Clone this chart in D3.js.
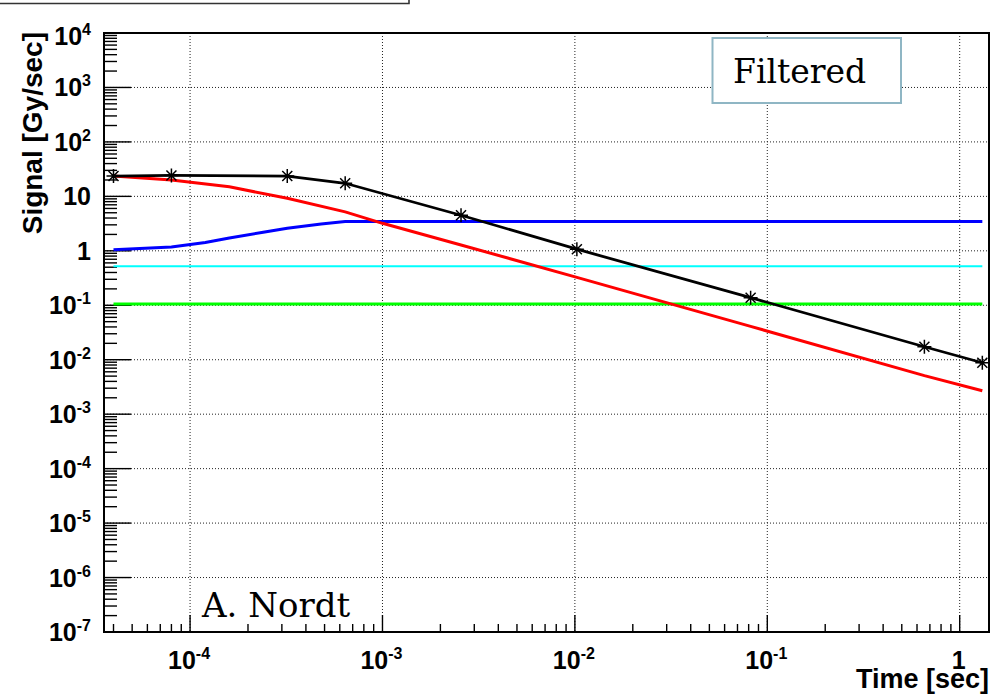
<!DOCTYPE html>
<html>
<head>
<meta charset="utf-8">
<script src="https://cdn.jsdelivr.net/npm/d3@7"></script>
<style>
body { margin: 0; background: #fff; }
</style>
</head>
<body>
<div id="chart"></div>
<script>
var width = 998;
var height = 694;

// star points of the total signal (black)
var starTimes = [4e-5, 8e-5, 3.2e-4, 6.4e-4, 2.56e-3, 1.024e-2, 8.192e-2, 0.6554, 1.311];
var totalValues = [23.6, 24.2, 23.6, 17.4, 4.5, 1.07, 0.138, 0.0173, 0.0088];

// red curve
var redTimes = [4e-5, 8e-5, 1.6e-4, 3.2e-4, 6.4e-4, 1e-3, 2.56e-3, 1.024e-2, 8.192e-2, 0.6554, 1.311];
var redValues = [23.6, 20, 15, 9.2, 5.2, 3.2, 1.28, 0.326, 0.041, 0.0051, 0.0027];

// blue curve
var blueTimes = [4e-5, 8e-5, 1.2e-4, 1.6e-4, 2.4e-4, 3.2e-4, 4.8e-4, 6.4e-4, 1.311];
var blueValues = [1.05, 1.17, 1.42, 1.72, 2.2, 2.6, 3.1, 3.45, 3.45];

// flat levels
var flatTimes = [4e-5, 1.311];
var cyanValues = [0.52, 0.52];
var greenValues = [0.105, 0.105];

var xDecades = [1e-4, 1e-3, 1e-2, 1e-1, 1];
var xTickLabels = ["10|-4", "10|-3", "10|-2", "10|-1", "1"];
var yDecades = [1e-7, 1e-6, 1e-5, 1e-4, 1e-3, 1e-2, 1e-1, 1, 10, 1e2, 1e3, 1e4];
var yTickLabels = ["10|-7", "10|-6", "10|-5", "10|-4", "10|-3", "10|-2", "10|-1", "1", "10", "10|2", "10|3", "10|4"];

var pLeft = 104, pRight = 989, pTop = 33, pBottom = 632;

var svg = d3.select("#chart").append("svg")
    .attr("width", width)
    .attr("height", height);

svg.append("rect")
    .attr("width", width)
    .attr("height", height)
    .attr("fill", "#fff");

var x = d3.scaleLog()
    .domain([3.57e-5, 1.42])
    .range([pLeft, pRight]);

var y = d3.scaleLog()
    .domain([1e-7, 1e4])
    .range([pBottom, pTop]);

// cut-off box at the top left
svg.append("path")
    .attr("d", "M0,3.5H409V-2")
    .attr("fill", "none")
    .attr("stroke", "#333")
    .attr("stroke-width", 1.6);

// grid
svg.append("g").selectAll("line")
    .data(xDecades)
    .enter().append("line")
    .attr("x1", function(d) { return x(d); })
    .attr("x2", function(d) { return x(d); })
    .attr("y1", pTop)
    .attr("y2", pBottom)
    .attr("stroke", "#222")
    .attr("stroke-width", 1)
    .attr("stroke-dasharray", "1,2");

svg.append("g").selectAll("line")
    .data(yDecades.slice(1, -1))
    .enter().append("line")
    .attr("x1", pLeft)
    .attr("x2", pRight)
    .attr("y1", function(d) { return y(d); })
    .attr("y2", function(d) { return y(d); })
    .attr("stroke", "#222")
    .attr("stroke-width", 1)
    .attr("stroke-dasharray", "1,2");

// minor ticks (2..9 in every decade)
var xMinor = [];
var yMinor = [];
for (var e = -5; e <= 0; e++) {
    for (var m = 2; m <= 9; m++) {
        var v = m * Math.pow(10, e);
        if (v > 3.57e-5 && v < 1.42) xMinor.push(v);
    }
}
for (var e = -7; e < 4; e++) {
    for (var m = 2; m <= 9; m++) {
        yMinor.push(m * Math.pow(10, e));
    }
}

var ticks = svg.append("g")
    .attr("stroke", "#000")
    .attr("stroke-width", 1.4);

ticks.selectAll(".xmin")
    .data(xMinor)
    .enter().append("line")
    .attr("x1", function(d) { return x(d); })
    .attr("x2", function(d) { return x(d); })
    .attr("y1", pBottom)
    .attr("y2", pBottom - 8);

ticks.selectAll(".xmaj")
    .data(xDecades)
    .enter().append("line")
    .attr("x1", function(d) { return x(d); })
    .attr("x2", function(d) { return x(d); })
    .attr("y1", pBottom)
    .attr("y2", pBottom - 17);

ticks.selectAll(".ymin")
    .data(yMinor)
    .enter().append("line")
    .attr("x1", pLeft)
    .attr("x2", pLeft + 13)
    .attr("y1", function(d) { return y(d); })
    .attr("y2", function(d) { return y(d); });

ticks.selectAll(".ymaj")
    .data(yDecades)
    .enter().append("line")
    .attr("x1", pLeft)
    .attr("x2", pLeft + 27)
    .attr("y1", function(d) { return y(d); })
    .attr("y2", function(d) { return y(d); });

// curves
var line = d3.line()
    .x(function(d) { return x(d[0]); })
    .y(function(d) { return y(d[1]); });

function drawCurve(ts, vs, color, w) {
    svg.append("path")
        .datum(d3.zip(ts, vs))
        .attr("d", line)
        .attr("fill", "none")
        .attr("stroke", color)
        .attr("stroke-width", w);
}

drawCurve(flatTimes, cyanValues, "#00ffff", 2);
drawCurve(flatTimes, greenValues, "#00ff00", 3);
drawCurve(blueTimes, blueValues, "#0000ff", 3);
drawCurve(redTimes, redValues, "#ff0000", 3);
drawCurve(starTimes, totalValues, "#000000", 2.8);

svg.append("g").selectAll("path")
    .data(d3.zip(starTimes, totalValues))
    .enter().append("path")
    .attr("transform", function(d) { return "translate(" + x(d[0]) + "," + y(d[1]) + ")"; })
    .attr("d", "M-7,0H7M0,-7V7M-5,-5L5,5M-5,5L5,-5")
    .attr("stroke", "#000")
    .attr("stroke-width", 1.5);

// frame
svg.append("rect")
    .attr("x", pLeft)
    .attr("y", pTop)
    .attr("width", pRight - pLeft)
    .attr("height", pBottom - pTop)
    .attr("fill", "none")
    .attr("stroke", "#000")
    .attr("stroke-width", 2);

// tick labels, "10|-4" means 10 with superscript -4
function addLabel(sel, label) {
    var parts = label.split("|");
    sel.append("tspan").text(parts[0]);
    if (parts.length > 1) {
        sel.append("tspan")
            .attr("font-size", "16px")
            .attr("dy", -10)
            .text(parts[1]);
    }
}

svg.append("g").selectAll("text")
    .data(yDecades)
    .enter().append("text")
    .attr("x", 91)
    .attr("y", function(d, i) { return y(d) + (i == yDecades.length - 1 ? 12 : 9); })
    .attr("text-anchor", "end")
    .attr("font-family", "Liberation Sans, Arial, sans-serif")
    .attr("font-weight", "bold")
    .attr("font-size", "25px")
    .each(function(d, i) { addLabel(d3.select(this), yTickLabels[i]); });

svg.append("g").selectAll("text")
    .data(xDecades)
    .enter().append("text")
    .attr("x", function(d) { return x(d) - 1; })
    .attr("y", 669)
    .attr("text-anchor", "middle")
    .attr("font-family", "Liberation Sans, Arial, sans-serif")
    .attr("font-weight", "bold")
    .attr("font-size", "25px")
    .each(function(d, i) { addLabel(d3.select(this), xTickLabels[i]); });

// axis titles
svg.append("text")
    .attr("x", pRight)
    .attr("y", 688)
    .attr("text-anchor", "end")
    .attr("font-family", "Liberation Sans, Arial, sans-serif")
    .attr("font-weight", "bold")
    .attr("font-size", "27px")
    .text("Time [sec]");

svg.append("text")
    .attr("transform", "translate(42,32) rotate(-90)")
    .attr("text-anchor", "end")
    .attr("font-family", "Liberation Sans, Arial, sans-serif")
    .attr("font-weight", "bold")
    .attr("font-size", "28px")
    .text("Signal [Gy/sec]");

// annotations
svg.append("rect")
    .attr("x", 712.5)
    .attr("y", 38)
    .attr("width", 188.5)
    .attr("height", 65)
    .attr("fill", "#fff")
    .attr("stroke", "#8fb6c4")
    .attr("stroke-width", 2);

svg.append("text")
    .attr("x", 733)
    .attr("y", 83)
    .attr("font-family", "DejaVu Serif, serif")
    .attr("font-size", "33px")
    .text("Filtered");

svg.append("text")
    .attr("x", 202)
    .attr("y", 617)
    .attr("font-family", "DejaVu Serif, serif")
    .attr("font-size", "34px")
    .text("A. Nordt");
</script>
</body>
</html>
